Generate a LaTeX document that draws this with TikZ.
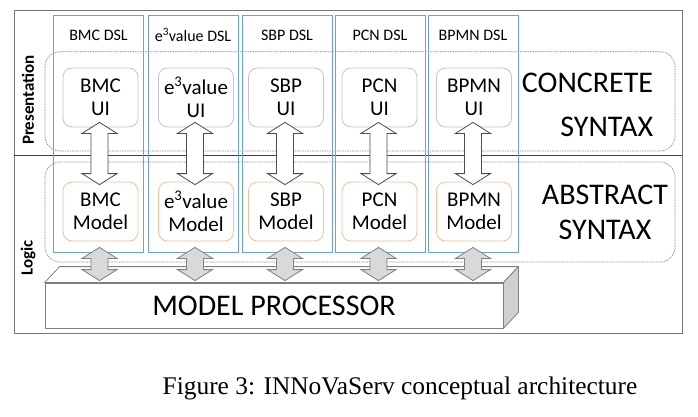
\documentclass[tikz,border=0pt]{standalone}
\usepackage{fontspec}
\setmainfont{Carlito}
\newfontfamily\capfont{Liberation Serif}
\usetikzlibrary{calc}
\definecolor{dslblue}{HTML}{6FA0CF}
\definecolor{uigray}{HTML}{C4C4C4}
\definecolor{modorange}{HTML}{F2C295}
\definecolor{dashgray}{HTML}{8C8C8C}
\definecolor{framegray}{HTML}{777777}
\definecolor{arrgray}{HTML}{D9D9D9}
\definecolor{sidegray}{HTML}{D0D0D0}
\tikzset{
  dslcol/.style={draw=dslblue, line width=0.9pt, minimum width=90pt, minimum height=237pt, inner sep=0pt},
  dsllabel/.style={font=\fontsize{16}{18}\selectfont, inner sep=0pt},
  uibox/.style={draw=uigray, line width=0.8pt, rounded corners=9pt, fill=white, minimum width=75pt, minimum height=59pt, align=center, inner sep=0pt, font=\fontsize{21}{23}\selectfont},
  modbox/.style={uibox, draw=modorange},
  layerbox/.style={draw=dashgray, line width=0.7pt, dash pattern=on 1.5pt off 1pt, rounded corners=15pt},
  whitearr/.style={draw=black!70, line width=0.8pt, fill=white},
  grayarr/.style={draw=black!50, line width=0.8pt, fill=arrgray},
  bigtext/.style={font=\fontsize{30}{31}\selectfont, inner sep=0pt},
  sidelabel/.style={font=\fontsize{17}{19}\selectfont\bfseries, rotate=90, inner sep=0pt}
}
\newcommand{\dblarrow}[3]{%
  \path[#1] let \p1=(#2), \p2=(#3) in
    (\x1,\y1) -- (\x1+17.5pt,\y1-11pt) -- (\x1+8.5pt,\y1-11pt) -- (\x1+8.5pt,\y2+11pt)
    -- (\x1+17.5pt,\y2+11pt) -- (\x1,\y2) -- (\x1-17.5pt,\y2+11pt) -- (\x1-8.5pt,\y2+11pt)
    -- (\x1-8.5pt,\y1-11pt) -- (\x1-17.5pt,\y1-11pt) -- cycle;}
\begin{document}
\begin{tikzpicture}[x=1pt,y=-1pt]
\useasboundingbox[fill=white] (0,0) rectangle (698,416);
% frame
\draw[framegray, line width=1pt] (14,10) rectangle (682,333);
\coordinate (sepL) at (14,155.5);
\coordinate (sepR) at (682,155.5);
\draw[black!75, line width=1pt] (sepL) -- (sepR);
% layer boxes
\draw[layerbox] (45,51.7) rectangle (675,151);
\draw[layerbox] (45,162) rectangle (675,262);
% DSL columns
\foreach \i/\x in {1/98.5,2/193,3/287,4/380,5/473}{
  \node[dslcol] (dsl\i) at (\x,134.2) {};
}
\node[dsllabel] at (dsl1.center |- 0,35) {BMC DSL};
\node[dsllabel] at (dsl2.center |- 0,35) {e\textsuperscript{3}value DSL};
\node[dsllabel] at (dsl3.center |- 0,35) {SBP DSL};
\node[dsllabel] at (dsl4.center |- 0,35) {PCN DSL};
\node[dsllabel] at (dsl5.center |- 0,35) {BPMN DSL};
% UI boxes
\node[uibox] (ui1) at (100.5,97.5) {BMC\\UI};
\node[uibox] (ui2) at (196,97.5) {e\textsuperscript{3}value\\UI};
\node[uibox] (ui3) at (286,97.5) {SBP\\UI};
\node[uibox] (ui4) at (379.5,97.5) {PCN\\UI};
\node[uibox] (ui5) at (474,97.5) {BPMN\\UI};
% Model boxes
\node[modbox] (m1) at (100.5,211.5) {BMC\\Model};
\node[modbox] (m2) at (196,211.5) {e\textsuperscript{3}value\\Model};
\node[modbox] (m3) at (286,211.5) {SBP\\Model};
\node[modbox] (m4) at (379.5,211.5) {PCN\\Model};
\node[modbox] (m5) at (474,211.5) {BPMN\\Model};
% white arrows
\foreach \i in {1,...,5}{
  \dblarrow{whitearr}{$(ui\i.south)+(-1,-5)$}{$(m\i.north)+(-1,3)$}
}
% model processor
\node[draw=black!50, line width=0.8pt, fill=white, minimum width=458pt, minimum height=45pt, inner sep=0pt] (proc) at (274,305.5) {};
\draw[draw=black!50, line width=0.8pt, fill=white, line join=round]
  (proc.north west) -- ++(15pt,16pt) -- ($(proc.north east)+(15pt,16pt)$) -- (proc.north east) -- cycle;
\draw[draw=black!50, line width=0.8pt, fill=sidegray, line join=round]
  (proc.north east) -- ++(15pt,16pt) -- ($(proc.south east)+(15pt,16pt)$) -- (proc.south east) -- cycle;
\node[bigtext] at (proc.center) {MODEL PROCESSOR};
% gray arrows
\foreach \i in {1,...,5}{
  \coordinate (pt\i) at ($(m\i.south |- proc.north)+(-1,-2)$);
  \dblarrow{grayarr}{$(m\i.south)+(-1,6)$}{pt\i}
}
% layer titles
\node[bigtext, align=right, font=\fontsize{30}{44}\selectfont] (conc) at (587.5,105) {CONCRETE\\SYNTAX};
\node[bigtext, align=center, font=\fontsize{30}{35}\selectfont] (abst) at (605,212.5) {ABSTRACT\\SYNTAX};
% side labels
\node[sidelabel] (pres) at (28,100) {Presentation};
\node[sidelabel] (logic) at (28,258) {Logic};
% caption
\node[font=\capfont\fontsize{25.4}{28}\selectfont, inner sep=0pt] (cap) at (400,388) {Figure 3: INNoVaServ conceptual architecture};
\end{tikzpicture}
\end{document}
